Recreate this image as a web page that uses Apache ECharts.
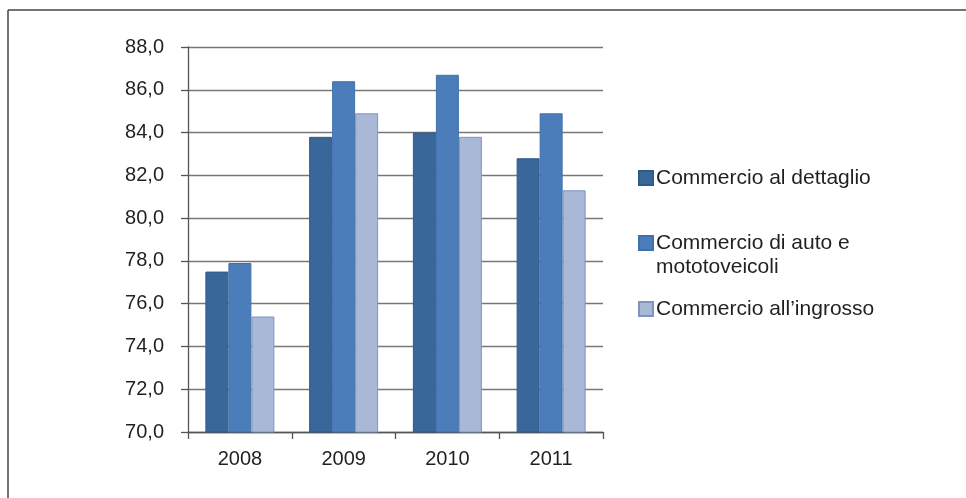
<!DOCTYPE html>
<html>
<head>
<meta charset="utf-8">
<script src="https://cdn.jsdelivr.net/npm/echarts@6/dist/echarts.min.js"></script>
<style>
  html, body { margin: 0; padding: 0; background: #fff; }
  #chart { width: 966px; height: 498px; }
</style>
</head>
<body>
<div id="chart"></div>
<script>
// Categories and series values
const years = ['2008', '2009', '2010', '2011'];
const seriesNames = ['Commercio al dettaglio', 'Commercio di auto e mototoveicoli', 'Commercio all\u2019ingrosso'];
const dettaglio = [77.5, 83.8, 84.0, 82.8];
const autoMoto = [77.9, 86.4, 86.7, 84.9];
const ingrosso = [75.4, 84.9, 83.8, 81.3];
const yTicks = { min: 70, max: 88, step: 2 };

const FONT = '"Liberation Sans", Arial, Helvetica, sans-serif';
const TEXT = '#231f20';
const fills = ['#39679a', '#4a7dba', '#a9b8d6'];
const edges = ['#31598a', '#4070ab', '#7d94c0'];

const chart = echarts.init(document.getElementById('chart'), null, { renderer: 'canvas' });

function bar(name, data, i) {
  return {
    name: name,
    type: 'bar',
    data: data,
    barWidth: 23,
    barGap: '0%',
    itemStyle: { color: fills[i], borderColor: edges[i], borderWidth: 1 },
    emphasis: { disabled: true }
  };
}

// One legend block per series so each entry can sit at its own height
function legendFor(name, top, formatter) {
  const lg = {
    data: [name],
    orient: 'vertical',
    left: 633,
    top: top,
    itemWidth: 14,
    itemHeight: 14,
    icon: 'rect',
    selectedMode: false,
    textStyle: { fontFamily: FONT, fontSize: 21, color: TEXT, lineHeight: 24, padding: [0, 0, 0, -2] }
  };
  if (formatter) lg.formatter = formatter;
  return lg;
}

chart.setOption({
  animation: false,
  backgroundColor: '#fff',
  grid: { left: 188, right: 363, top: 47, bottom: 66, containLabel: false },
  legend: [
    legendFor(seriesNames[0], 161),
    // leading empty line keeps the marker level with the first text line
    legendFor(seriesNames[1], 202, function () { return '\nCommercio di auto e\nmototoveicoli'; }),
    legendFor(seriesNames[2], 292)
  ],
  xAxis: {
    type: 'category',
    data: years,
    boundaryGap: true,
    axisLine: { show: true, lineStyle: { color: '#555', width: 1.3 } },
    axisTick: { show: true, length: 7, alignWithLabel: false, lineStyle: { color: '#555', width: 1.3 } },
    axisLabel: { fontFamily: FONT, fontSize: 20, color: TEXT, margin: 17 }
  },
  yAxis: {
    type: 'value',
    min: yTicks.min,
    max: yTicks.max,
    interval: yTicks.step,
    axisLine: { show: true, lineStyle: { color: '#555', width: 1.3 } },
    axisTick: { show: true, length: 7, lineStyle: { color: '#555', width: 1.3 } },
    splitLine: { show: true, lineStyle: { color: '#777', width: 1.3 } },
    axisLabel: {
      fontFamily: FONT, fontSize: 20, color: TEXT, margin: 24,
      formatter: function (v) { return v.toFixed(1).replace('.', ','); }
    }
  },
  series: [
    bar(seriesNames[0], dettaglio, 0),
    bar(seriesNames[1], autoMoto, 1),
    bar(seriesNames[2], ingrosso, 2)
  ],
  graphic: [
    { type: 'line', shape: { x1: 8, y1: 10, x2: 966, y2: 10 }, style: { stroke: '#444', lineWidth: 1.5 }, silent: true },
    { type: 'line', shape: { x1: 8, y1: 10, x2: 8, y2: 498 }, style: { stroke: '#444', lineWidth: 1.5 }, silent: true }
  ]
});
</script>
</body>
</html>
